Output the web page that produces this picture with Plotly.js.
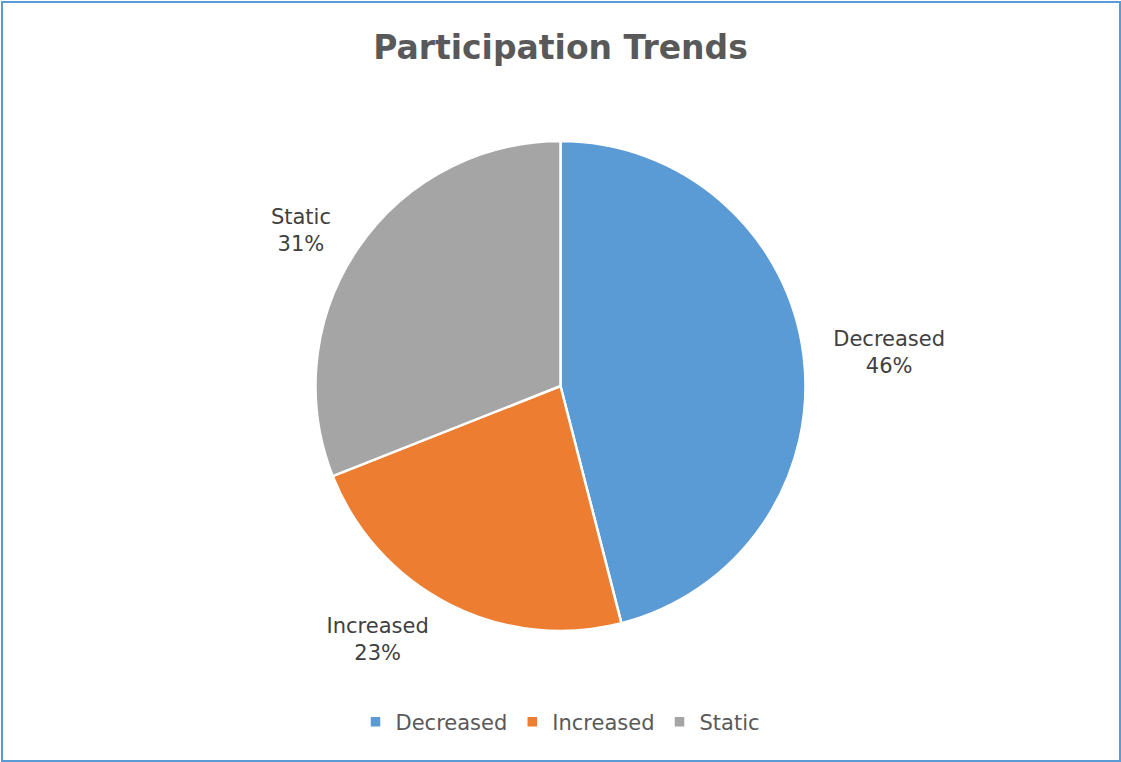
<!DOCTYPE html>
<html>
<head>
<meta charset="utf-8">
<script src="https://cdn.plot.ly/plotly-3.0.1.min.js"></script>
<style>
html,body{margin:0;padding:0;background:#fff;}
#wrap{position:relative;width:1121px;height:762px;}
#chart{position:absolute;left:0;top:0;width:1121px;height:762px;}
#frame{position:absolute;left:1px;top:1px;width:1120px;height:761px;box-sizing:border-box;border:2px solid #5B9BD5;pointer-events:none;}
</style>
</head>
<body>
<div id="wrap"><div id="chart"></div><div id="frame"></div></div>
<script>
const categories = ["Decreased", "Increased", "Static"];
const values = [46, 23, 31];
const colors = ["#5B9BD5", "#ED7D31", "#A5A5A5"];
const chartTitle = "Participation Trends";

// main pie (radius 245) and a transparent label pie (radius 262) sharing the same centre
const plotH = 530;
const pieR = 245, labelR = 262;

const pieTrace = {
  type: "pie",
  labels: categories,
  values: values,
  sort: false,
  direction: "clockwise",
  rotation: 0,
  domain: {x: [0, 1], y: [(plotH/2 - pieR)/plotH, (plotH/2 + pieR)/plotH]},
  marker: {colors: colors, line: {color: "#ffffff", width: 2.5}},
  textinfo: "none",
  hoverinfo: "none",
  showlegend: true
};

const labelTrace = {
  type: "pie",
  labels: categories,
  values: values,
  sort: false,
  direction: "clockwise",
  rotation: 0,
  domain: {x: [0, 1], y: [(plotH/2 - labelR)/plotH, (plotH/2 + labelR)/plotH]},
  marker: {colors: ["rgba(0,0,0,0)", "rgba(0,0,0,0)", "rgba(0,0,0,0)"], line: {width: 0}},
  textinfo: "label+percent",
  textposition: "outside",
  texttemplate: "%{label}<br>%{percent:.0%}",
  outsidetextfont: {family: "DejaVu Sans", size: 21, color: "#404040"},
  hoverinfo: "none",
  showlegend: false,
  automargin: false
};

const layout = {
  width: 1121,
  height: 762,
  paper_bgcolor: "#ffffff",
  margin: {l: 0, r: 0, t: 121, b: 111},
  title: {
    text: "<b>" + chartTitle + "</b>",
    font: {family: "DejaVu Sans", size: 33, color: "#595959"},
    x: 0.5, xanchor: "center",
    y: 1 - 47/762, yref: "container", yanchor: "middle"
  },
  showlegend: true,
  legend: {
    orientation: "h",
    x: 0.5, xanchor: "center",
    y: 1 - 722/762, yref: "container", yanchor: "middle",
    font: {family: "DejaVu Sans", size: 21, color: "#595959"},
    itemwidth: 30
  }
};

Plotly.newPlot("chart", [pieTrace, labelTrace], layout, {displayModeBar: false, staticPlot: true});
</script>
</body>
</html>
